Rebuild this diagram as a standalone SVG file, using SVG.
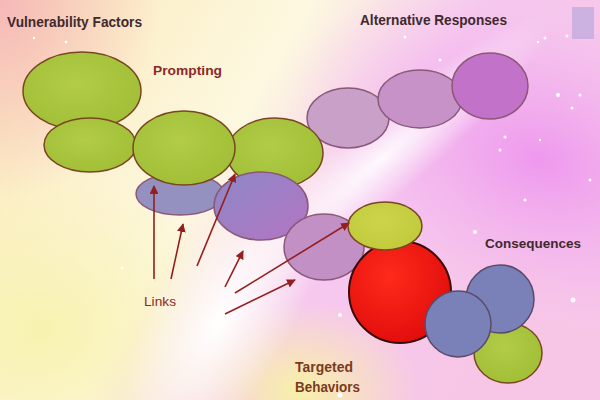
<svg xmlns="http://www.w3.org/2000/svg" width="600" height="400" viewBox="0 0 600 400">
<defs>
<linearGradient id="bg" x1="0" y1="0" x2="1" y2="0.4">
<stop offset="0" stop-color="#fbe9b8"/>
<stop offset="0.45" stop-color="#fdf8e0"/>
<stop offset="0.7" stop-color="#f6c8f0"/>
<stop offset="1" stop-color="#f7c6e6"/>
</linearGradient>
<radialGradient id="pinkTL" cx="0" cy="0" r="1" gradientUnits="userSpaceOnUse" gradientTransform="translate(0 0) scale(160 200)">
<stop offset="0" stop-color="#f6b8b8"/>
<stop offset="1" stop-color="#f6b8b8" stop-opacity="0"/>
</radialGradient>
<radialGradient id="mag" cx="0" cy="0" r="1" gradientUnits="userSpaceOnUse" gradientTransform="translate(540 160) rotate(20) scale(260 170)">
<stop offset="0" stop-color="#ee98ee"/>
<stop offset="0.6" stop-color="#f3b6ee" stop-opacity="0.6"/>
<stop offset="1" stop-color="#f6c8ee" stop-opacity="0"/>
</radialGradient>
<radialGradient id="yelBL" cx="0" cy="0" r="1" gradientUnits="userSpaceOnUse" gradientTransform="translate(40 330) scale(200 160)">
<stop offset="0" stop-color="#f8f2b0"/>
<stop offset="1" stop-color="#f8f2b0" stop-opacity="0"/>
</radialGradient>
<radialGradient id="white" cx="0" cy="0" r="1" gradientUnits="userSpaceOnUse" gradientTransform="translate(220 320) rotate(-60) scale(150 70)">
<stop offset="0" stop-color="#ffffff"/>
<stop offset="1" stop-color="#ffffff" stop-opacity="0"/>
</radialGradient>
<radialGradient id="whiteBand" cx="0" cy="0" r="1" gradientUnits="userSpaceOnUse" gradientTransform="translate(380 160) rotate(-40) scale(220 40)">
<stop offset="0" stop-color="#ffffff" stop-opacity="0.9"/>
<stop offset="1" stop-color="#ffffff" stop-opacity="0"/>
</radialGradient>
<radialGradient id="yelB" cx="0" cy="0" r="1" gradientUnits="userSpaceOnUse" gradientTransform="translate(300 390) scale(120 90)">
<stop offset="0" stop-color="#f8f0a8"/>
<stop offset="1" stop-color="#f8f0a8" stop-opacity="0"/>
</radialGradient>
<radialGradient id="green" cx="0.45" cy="0.4" r="0.7">
<stop offset="0" stop-color="#b2cc48"/>
<stop offset="1" stop-color="#9fbd34"/>
</radialGradient>
<radialGradient id="yg" cx="0.45" cy="0.4" r="0.7">
<stop offset="0" stop-color="#cdd44a"/>
<stop offset="1" stop-color="#bfc83a"/>
</radialGradient>
<radialGradient id="red" cx="0.4" cy="0.35" r="0.7">
<stop offset="0" stop-color="#ff2a1a"/>
<stop offset="1" stop-color="#e00c0c"/>
</radialGradient>
<linearGradient id="purp6" x1="0" y1="0" x2="1" y2="1">
<stop offset="0" stop-color="#8c88c6"/>
<stop offset="1" stop-color="#b474c4"/>
</linearGradient>
<marker id="ah" viewBox="0 0 10 10" refX="9" refY="5" markerWidth="5.5" markerHeight="5.5" orient="auto-start-reverse" markerUnits="strokeWidth">
<path d="M0,0 L10,5 L0,10 z" fill="#951e1e"/>
</marker>
</defs>
<style>
.node{stroke:#7a4622;stroke-width:1.5}
.pl{stroke:#8a5878;stroke-width:1.5}
.lnk{stroke:#951e1e;stroke-width:1.6;fill:none;marker-end:url(#ah)}
.t{font-family:"Liberation Sans",Arial,sans-serif;font-weight:bold}
.dark{fill:#3e2a2e}
.red{fill:#8c2828}
.brown{fill:#7a3a22}
.sp{fill:#ffffff}
</style>
<rect width="600" height="400" fill="url(#bg)"/>
<rect width="600" height="400" fill="url(#pinkTL)"/>
<rect width="600" height="400" fill="url(#yelBL)"/>
<rect width="600" height="400" fill="url(#mag)"/>
<rect width="600" height="400" fill="url(#yelB)"/>
<rect width="600" height="400" fill="url(#whiteBand)"/>
<rect width="600" height="400" fill="url(#white)"/>
<rect x="572" y="7" width="22" height="32" fill="#c4aede" opacity="0.85"/>
<g id="sparkles">
<circle class="sp" cx="545" cy="38" r="1.5"/><circle class="sp" cx="538" cy="42" r="1.2"/>
<circle class="sp" cx="567" cy="36" r="1.5"/><circle class="sp" cx="558" cy="95" r="2"/>
<circle class="sp" cx="580" cy="95" r="1.5"/><circle class="sp" cx="572" cy="108" r="1.5"/>
<circle class="sp" cx="505" cy="137" r="1.5"/><circle class="sp" cx="500" cy="150" r="1.5"/>
<circle class="sp" cx="440" cy="60" r="1.5"/><circle class="sp" cx="405" cy="37" r="1.5"/>
<circle class="sp" cx="540" cy="140" r="1.2"/><circle class="sp" cx="573" cy="300" r="2.5"/>
<circle class="sp" cx="34" cy="38" r="1.2"/><circle class="sp" cx="66" cy="42" r="1.5"/>
<circle class="sp" cx="122" cy="268" r="1.5"/><circle class="sp" cx="340" cy="315" r="2"/>
<circle class="sp" cx="475" cy="232" r="2"/><circle class="sp" cx="340" cy="395" r="2.5"/>
<circle class="sp" cx="525" cy="200" r="1.5"/><circle class="sp" cx="590" cy="180" r="1.5"/>
</g>
<g id="n13"><ellipse class="pl" cx="348" cy="118" rx="41" ry="30" fill="#c8a0c8"/></g>
<g id="n14"><ellipse class="pl" cx="420" cy="99" rx="42" ry="29" fill="#c692c8"/></g>
<g id="n15"><ellipse class="pl" cx="490" cy="86" rx="38" ry="33" fill="#c272c8"/></g>
<g id="n1"><ellipse class="node" cx="82" cy="91" rx="59" ry="39" fill="url(#green)"/></g>
<g id="n2"><ellipse class="node" cx="90" cy="145" rx="46" ry="27" fill="url(#green)"/></g>
<g id="n5"><ellipse class="pl" cx="180" cy="194" rx="44" ry="21" fill="#9490c0"/></g>
<g id="n4"><ellipse class="node" cx="275" cy="153" rx="48" ry="35" fill="url(#green)"/></g>
<g id="n3"><ellipse class="node" cx="184" cy="148" rx="51" ry="37" fill="url(#green)"/></g>
<g id="n6"><ellipse class="pl" cx="261" cy="206" rx="47" ry="34" fill="url(#purp6)"/></g>
<g id="n7"><ellipse class="pl" cx="324" cy="247" rx="40" ry="33" fill="#c290c4"/></g>
<g id="n9"><circle cx="400" cy="292" r="51" fill="url(#red)" stroke="#3a0a0a" stroke-width="2"/></g>
<g id="n8"><ellipse class="node" cx="385" cy="226" rx="37" ry="24" fill="url(#yg)"/></g>
<g id="n12"><ellipse class="node" cx="508" cy="353" rx="34" ry="30" fill="url(#green)"/></g>
<g id="n10"><circle cx="500" cy="299" r="34" fill="#7a80b8" stroke="#5a4a6a" stroke-width="1.5"/></g>
<g id="n11"><circle cx="458" cy="324" r="33" fill="#7a80b8" stroke="#5a4a6a" stroke-width="1.5"/></g>
<g id="connectors">
<line class="lnk" x1="154" y1="279" x2="154" y2="186"/>
<line class="lnk" x1="171" y1="279" x2="183" y2="224"/>
<line class="lnk" x1="197" y1="266" x2="235" y2="174"/>
<line class="lnk" x1="225" y1="287" x2="243" y2="251"/>
<line class="lnk" x1="235" y1="293" x2="349" y2="223"/>
<line class="lnk" x1="225" y1="314" x2="295" y2="280"/>
</g>
<g id="labels">
<text class="t dark" x="7" y="27" font-size="14" textLength="135" lengthAdjust="spacingAndGlyphs">Vulnerability Factors</text>
<text class="t red" x="153" y="75" font-size="12.5" textLength="69" lengthAdjust="spacingAndGlyphs">Prompting</text>
<text class="t dark" x="360" y="25" font-size="14" textLength="147" lengthAdjust="spacingAndGlyphs">Alternative Responses</text>
<text class="t red" x="144" y="306" font-size="13" style="font-weight:normal" textLength="32" lengthAdjust="spacingAndGlyphs">Links</text>
<text class="t brown" x="295" y="372" font-size="14" textLength="58" lengthAdjust="spacingAndGlyphs">Targeted</text>
<text class="t brown" x="295" y="392" font-size="14" textLength="65" lengthAdjust="spacingAndGlyphs">Behaviors</text>
<text class="t dark" x="485" y="248" font-size="13.5" textLength="96" lengthAdjust="spacingAndGlyphs">Consequences</text>
</g>
</svg>
